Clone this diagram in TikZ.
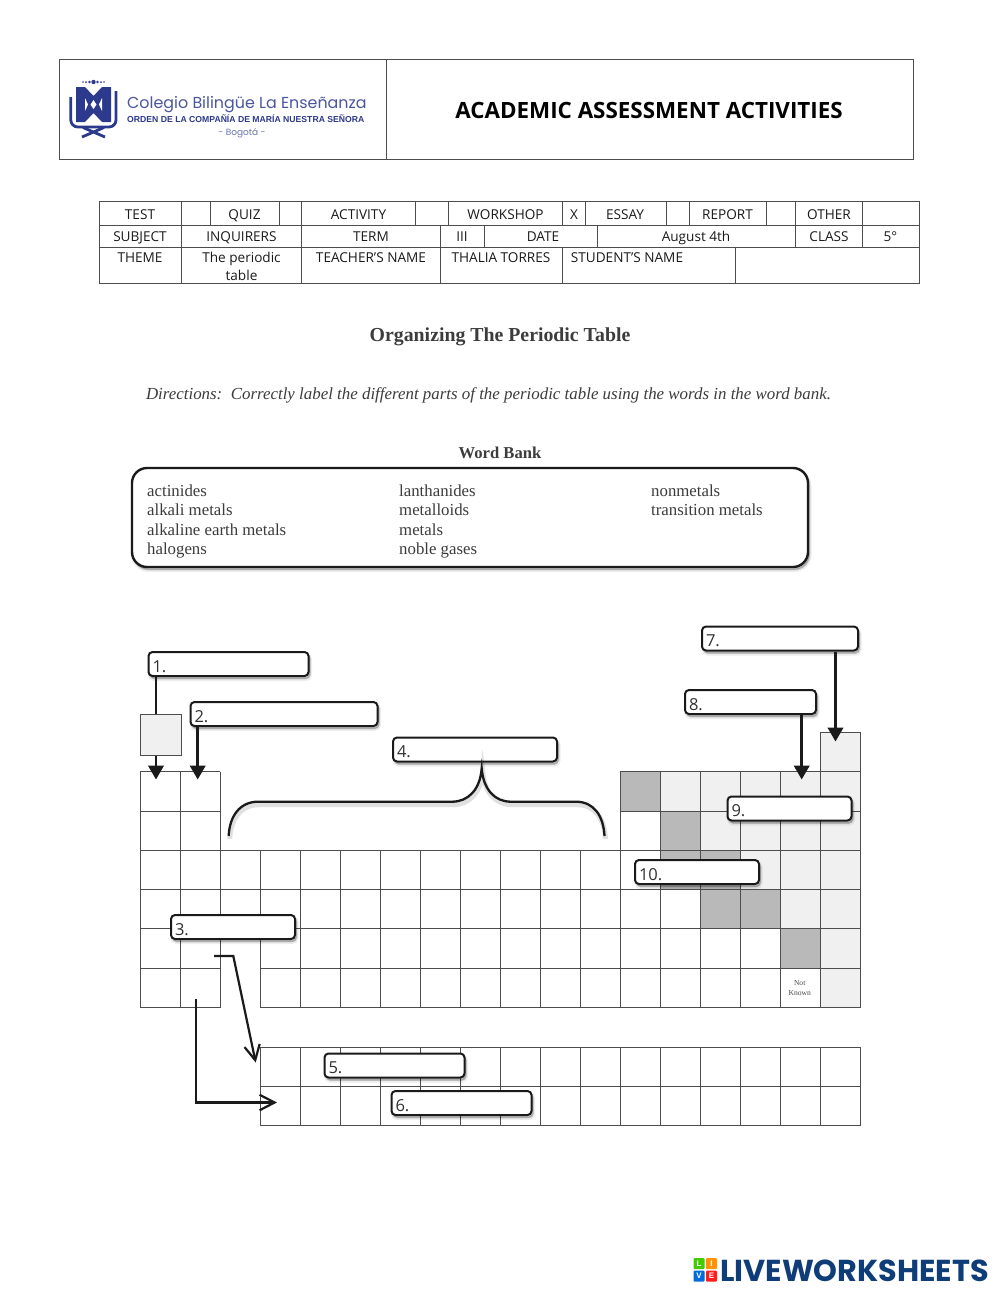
\documentclass[tikz,border=0pt]{standalone}
\usepackage{fontspec}
\usepackage{xcolor}
\usetikzlibrary{arrows.meta, positioning, shadows, calc}
\setmainfont{Liberation Serif}
\newfontfamily\formfont{Open Sans}
\newfontfamily\crestfont{Poppins}
\newfontfamily\mottofont{Liberation Sans}
\definecolor{ink}{HTML}{1A1A1A}
\definecolor{rule}{HTML}{4D4D4D}
\definecolor{paleCell}{HTML}{F0F0F0}
\definecolor{darkCell}{HTML}{B9B9B9}
\definecolor{crest}{HTML}{2B3A8C}
\definecolor{brand}{HTML}{0F3D78}
\begin{document}
\begin{tikzpicture}[
  x=1pt, y=-1pt,
  % ---- Form styles ----
  frameline/.style={draw=rule, line width=0.9pt},
  cellline/.style={draw=rule, line width=0.8pt},
  tcell/.style={anchor=base, inner sep=0pt, align=center, text=ink,
    font=\fontsize{13.6}{18}\selectfont\formfont},
  % ---- Printed sheet styles ----
  sheettext/.style={anchor=base west, inner sep=0pt, text=ink!85},
  bankword/.style={sheettext, font=\fontsize{16.8}{18}\selectfont},
  % ---- Answer boxes ----
  softshade/.style={general shadow={fill=black, draw=black, line width=4pt,
      opacity=0.07, shadow xshift=1.5pt, shadow yshift=-3pt},
    general shadow={fill=black, draw=black, line width=1.5pt,
      opacity=0.14, shadow xshift=1.5pt, shadow yshift=-2.5pt}},
  labbox/.style={draw=ink, fill=white, line width=2pt, rounded corners=4pt,
    softshade, anchor=north west, text width=#1, inner xsep=4pt, inner ysep=0pt,
    minimum height=24pt, align=left, text=ink!90, text height=16pt, text depth=0pt,
    font=\fontsize{16.5}{18}\selectfont\formfont},
  % ---- Arrow styles ----
  solidarr/.style={-{Stealth[length=14pt,width=15.5pt,inset=0pt]}, line width=2.5pt, ink},
  openarr/.style={-{Straight Barb[length=15pt,width=15.5pt]}, line width=2.2pt, ink},
  softline/.style={preaction={draw=black, opacity=0.12, line width=5pt,
      transform canvas={shift={(1pt,-3pt)}}}},
  brand tile/.style={minimum size=11pt, inner sep=0pt, rounded corners=1pt, text=white,
    font=\fontsize{8}{8}\selectfont\bfseries\mottofont},
]
\fill[white] (0,0) rectangle (1000,1294);
\useasboundingbox (0,0) rectangle (1000,1294);

% ---- Header frame ----
\draw[frameline] (59.5,59) rectangle (913,159.5) (386,59) -- (386,159.5);
\node[inner sep=0pt, font=\fontsize{22.4}{24}\selectfont\bfseries\formfont, text=black]
  (title) at (649,110) {ACADEMIC ASSESSMENT ACTIVITIES};

% ---- School crest ----
\foreach \dx/\dr in {83/0.9, 86/1, 89.5/1.3, 93.5/2.2, 97.5/1.3, 101/1, 104/0.9}
  \fill[crest] (\dx,82) circle (\dr);
\draw[crest, line width=2.8pt, rounded corners=7pt]
  (70.8,97) -- (70.8,127) -- (116,127) -- (116,91);
\fill[crest] (76,87) -- (85,87) -- (93.5,96) -- (102,87) -- (111,87)
  -- (111,122) -- (102,122) -- (93.5,113) -- (85,122) -- (76,122) -- cycle;
\fill[white] (93.5,100) -- (96.5,104.5) -- (93.5,109) -- (90.5,104.5) -- cycle;
\fill[white] (85,98) -- (88,104.5) -- (85,111) -- cycle;
\fill[white] (102,98) -- (99,104.5) -- (102,111) -- cycle;
\draw[crest, line width=2.8pt] (82,137) -- (104,127.5) (105,137) -- (83,127.5);
\node[inner sep=0pt, anchor=base west, text=crest!85,
  font=\fontsize{15.9}{18}\selectfont\crestfont] (school) at (127,108) {Colegio Bilingüe La Enseñanza};
\node[inner sep=0pt, anchor=base west, text=crest,
  font=\fontsize{8.65}{9}\selectfont\bfseries\mottofont] (motto) at (127,122)
  {ORDEN DE LA COMPAÑÍA DE MARÍA NUESTRA SEÑORA};
\node[inner sep=0pt, anchor=base, text=crest!70,
  font=\fontsize{9}{9}\selectfont\crestfont] (city) at (242,135) {- Bogotá -};

% ---- Form table ----
\draw[frameline] (99.5,201.5) rectangle (919,283.5);
\draw[cellline] (99.5,225.5) -- (919,225.5) (99.5,247.5) -- (919,247.5);
\foreach \fx in {181.7,210,279.3,301.7,415.7,448.7,562.7,585.3,666,689.3,766.7,795.3,862.7}
  \draw[cellline] (\fx,201.5) -- (\fx,225.5);
\foreach \fx in {181.7,301.7,440.3,484.7,597,795.3,862.7}
  \draw[cellline] (\fx,225.5) -- (\fx,247.5);
\foreach \fx in {181.7,301.7,440.3,562.7,735.3}
  \draw[cellline] (\fx,247.5) -- (\fx,283.5);
\foreach \tx/\ty/\tlab [count=\n] in {
    140/219/TEST, 244.5/219/QUIZ, 358.5/219/ACTIVITY, 505.5/219/WORKSHOP,
    574/219/X, 625/219/ESSAY, 727.5/219/REPORT, 829/219/OTHER,
    140/241/SUBJECT, 241.5/241/INQUIRERS, 371/241/TERM, 462/241/III,
    543/241/DATE, 696/241/August 4th, 829/241/CLASS, 890.5/241/5°,
    140/262/THEME, 371/262/TEACHER’S NAME, 501/262/THALIA TORRES,
    627/262/STUDENT’S NAME}
  \node[tcell] (cell\n) at (\tx,\ty) {\tlab};
\node[tcell, anchor=center] (theme) at (241.5,266) {The periodic\\table};

% ---- Heading and directions ----
\node[inner sep=0pt, text=ink!85, font=\fontsize{19.8}{22}\selectfont\bfseries] (heading)
  at (500,337) {Organizing The Periodic Table};
\node[inner sep=0pt, text=ink!85, font=\fontsize{16.9}{20}\selectfont\itshape] (directions)
  at (488.5,395.5) {Directions:\ \ Correctly label the different parts of the periodic table using the words in the word bank.};
\node[inner sep=0pt, text=ink!85, font=\fontsize{16.6}{20}\selectfont\bfseries] (bankhead)
  at (500,452.5) {Word Bank};

% ---- Word bank ----
\node[draw=ink, fill=white, line width=2.4pt, rounded corners=15pt, softshade,
  minimum width=676pt, minimum height=99pt, inner sep=0pt] (bank) at (470,517.5) {};
\foreach \wx/\wy/\wlab [count=\n] in {
    147/496/actinides, 147/515.5/alkali metals, 147/535/alkaline earth metals, 147/554/halogens,
    399/496/lanthanides, 399/515.5/metalloids, 399/535/metals, 399/554/noble gases,
    651/496/nonmetals, 651/515.5/transition metals}
  \node[bankword] (word\n) at (\wx,\wy) {\wlab};

% ---- Periodic table shading ----
\foreach \col/\rowtop/\rowbot in {17/732/771.5, 13/771.5/811, 14/771.5/811, 15/771.5/811,
    16/771.5/811, 17/771.5/811, 14/811/850.5, 15/811/850.5, 16/811/850.5, 17/811/850.5,
    15/850.5/889.5, 16/850.5/889.5, 17/850.5/889.5, 16/889.5/928.5, 17/889.5/928.5,
    17/928.5/968, 17/968/1007.5}
  \fill[paleCell] ({140+40.03*\col},\rowtop) rectangle ({140+40.03*(\col+1)},\rowbot);
\foreach \col/\rowtop/\rowbot in {12/771.5/811, 13/811/850.5, 13/850.5/889.5, 14/850.5/889.5,
    14/889.5/928.5, 15/889.5/928.5, 16/928.5/968}
  \fill[darkCell] ({140+40.03*\col},\rowtop) rectangle ({140+40.03*(\col+1)},\rowbot);

% ---- Periodic table grid ----
\foreach \gy in {771.5,811} {
  \draw[cellline] (140,\gy) -- (220,\gy);
  \draw[cellline] (620.4,\gy) -- (860.5,\gy);
}
\foreach \gy in {850.5,889.5,928.5}
  \draw[cellline] (140,\gy) -- (860.5,\gy);
\foreach \gy in {968,1007.5} {
  \draw[cellline] (140,\gy) -- (220,\gy);
  \draw[cellline] (260,\gy) -- (860.5,\gy);
}
\draw[cellline] (820.5,732) -- (860.5,732);
\foreach \col in {0,1,2,12,13,14,15,16}
  \draw[cellline] ({140+40.03*\col},771.5) -- ({140+40.03*\col},1007.5);
\foreach \col in {17,18}
  \draw[cellline] ({140+40.03*\col},732) -- ({140+40.03*\col},1007.5);
\foreach \col in {3,4,...,11}
  \draw[cellline] ({140+40.03*\col},850.5) -- ({140+40.03*\col},1007.5);

% ---- Lower block ----
\foreach \gy in {1047,1086,1125.5}
  \draw[cellline] (260,\gy) -- (860.5,\gy);
\foreach \col in {3,4,...,18}
  \draw[cellline] ({140+40.03*\col},1047) -- ({140+40.03*\col},1125.5);
\node[inner sep=0pt, align=center, text=ink!80, font=\fontsize{7.6}{10}\selectfont]
  (unknown) at (799.7,988) {Not\\Known};

% ---- Answer boxes ----
\node[labbox=152pt] (lab1)  at (147.5,651)  {1.};
\node[labbox=179pt] (lab2)  at (189.5,701)  {2.};
\node[labbox=116pt] (lab3)  at (170,914)    {3.};
\node[labbox=156pt] (lab4)  at (392,736.5)  {4.};
\node[labbox=132pt] (lab5)  at (323.5,1052.5) {5.};
\node[labbox=132pt] (lab6)  at (390.5,1090) {6.};
\node[labbox=148pt] (lab7)  at (701,625.5)  {7.};
\node[labbox=123pt] (lab8)  at (684,689)    {8.};
\node[labbox=116pt] (lab9)  at (726.5,795.5) {9.};
\node[labbox=116pt] (lab10) at (634,859)    {10.};

% ---- Arrow ends ----
\coordinate (tip1) at (156,779.5);
\coordinate (tip2) at (197.7,779.5);
\coordinate (tip7) at (835.5,741.5);
\coordinate (tip8) at (801.7,779.5);
\coordinate (start3a) at (214,956);
\coordinate (bend3a) at (233.3,956);
\coordinate (tip3a) at (255.7,1062.5);
\coordinate (start3b) at (196.3,998.5);
\coordinate (bend3b) at (196.3,1102.5);
\coordinate (tip3b) at (277,1102.5);

% ---- Arrows ----
\draw[solidarr] (tip1 |- lab1.south) -- (tip1);
\node[draw=rule, fill=paleCell, line width=0.8pt, minimum size=41pt, inner sep=0pt]
  (hydrogen) at (161,734.5) {};
\draw[solidarr] (tip2 |- lab2.south) -- (tip2);
\draw[solidarr] (tip7 |- lab7.south) -- (tip7);
\draw[solidarr] (tip8 |- lab8.south) -- (tip8);
\draw[openarr] (start3a) -- (bend3a) -- (tip3a);
\draw[openarr] (start3b) -- (bend3b) -- (tip3b);

% ---- Brace under box 4 ----
\coordinate (braceTip) at (481.7,768.5);
\draw[ink, line width=2.3pt, softline]
  (228.7,836) .. controls (229.5,816) and (240,801.7) .. (258,801.7)
  -- (452,801.7) .. controls (468,801.7) and (480,790) .. (braceTip)
  .. controls (483.5,790) and (495,801.7) .. (511,801.7)
  -- (576,801.7) .. controls (594,801.7) and (603.5,816) .. (604.5,836);

% ---- Site mark ----
\node[brand tile, fill=green!55!lime!80!black] (tileL) at (699,1263.5) {L};
\node[brand tile, fill=orange!85!yellow] (tileI) at (711.5,1263.5) {I};
\node[brand tile, fill=blue!50!cyan!85!black] (tileV) at (699,1276) {V};
\node[brand tile, fill=red!85!pink] (tileE) at (711.5,1276) {E};
\node[inner sep=0pt, anchor=base west, text=brand,
  font=\fontsize{30.3}{32}\selectfont\bfseries\crestfont] (brandname) at (720,1281)
  {LIVEWORKSHEETS};
\end{tikzpicture}
\end{document}
